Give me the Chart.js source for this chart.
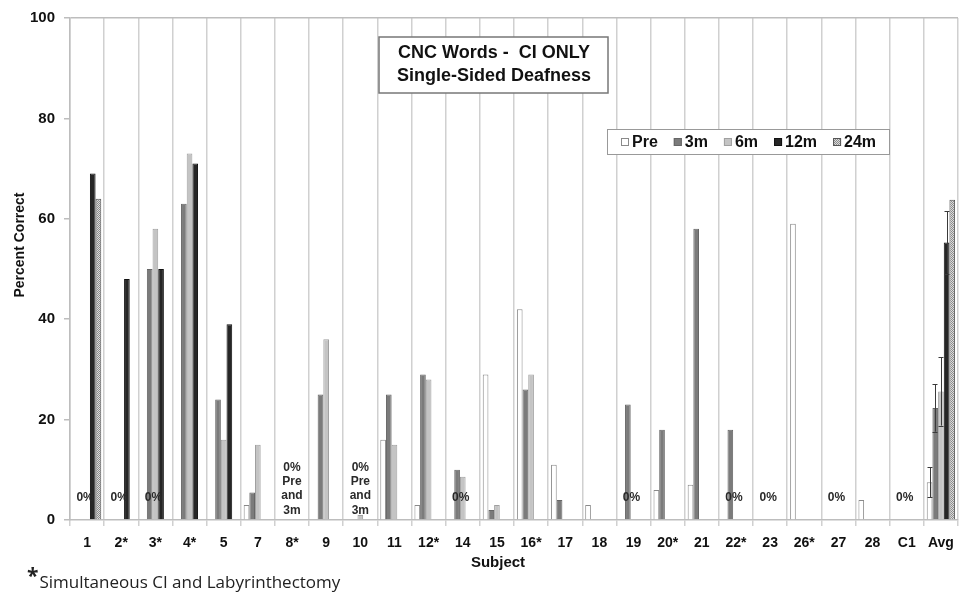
<!DOCTYPE html>
<html>
<head>
<meta charset="utf-8">
<title>CNC Words - CI ONLY</title>
<script src="https://cdn.jsdelivr.net/npm/chart.js@4.4.1/dist/chart.umd.min.js"></script>
<style>
  html, body { margin: 0; padding: 0; background: #fff; }
  #wrap { position: relative; width: 965px; height: 595px; }
  #foot {
    position: absolute; left: 27px; top: 566px;
    font-family: "Open Sans", "Noto Sans", sans-serif; font-size: 17px; color: #222;
  }
  #foot b { font-size: 21px; position: relative; top: -5px; margin-right: 1px; }
</style>
</head>
<body>
<div id="wrap">
  <canvas id="chart" width="965" height="595"></canvas>
  <div id="foot"><b>*</b>Simultaneous CI and Labyrinthectomy</div>
</div>
<script>
// Subjects (x-axis)
const subjects = ['1', '2*', '3*', '4*', '5', '7', '8*', '9', '10', '11', '12*', '14', '15',
  '16*', '17', '18', '19', '20*', '21', '22*', '23', '26*', '27', '28', 'C1', 'Avg'];

// Percent correct per interval (null = no bar)
const pre = [null, null, null, null, null, 3, null, null, null, 16, 3, null, 29,
  42, 11, 3, null, 6, 7, null, null, 59, null, 4, null, 7.5];
const m3 = [null, null, 50, 63, 24, 5.5, null, 25, null, 25, 29, 10, 2,
  26, 4, null, 23, 18, 58, 18, null, null, null, null, null, 22.3];
const m6 = [null, null, 58, 73, 16, 15, null, 36, 1, 15, 28, 8.6, 3,
  29, null, null, null, null, null, null, null, null, null, null, null, 25.6];
const m12 = [69, 48, 50, 71, 39, null, null, null, null, null, null, null, null,
  null, null, null, null, null, null, null, null, null, null, null, null, 55.3];
const m24 = [64, null, null, null, null, null, null, null, null, null, null, null, null,
  null, null, null, null, null, null, null, null, null, null, null, null, 63.8];

// error bars on the Avg group (Pre, 3m, 6m, 12m, 24m)
const avgError = [3.0, 4.7, 6.8, 6.2, null];

// subjects marked "0%" and the two "0% Pre and 3m" notes
const zeroLabels = ['1', '2*', '3*', '14', '19', '22*', '23', '27', 'C1'];
const noteLabels = ['8*', '10'];
const noteLines = ['0%', 'Pre', 'and', '3m'];

const yTicks = [0, 20, 40, 60, 80, 100];

const FONT = '"Liberation Sans", Arial, sans-serif';

// 24m bars: fine dotted fill
function dotPattern() {
  const c = document.createElement('canvas');
  c.width = 2; c.height = 2;
  const g = c.getContext('2d');
  g.fillStyle = '#dcdcdc'; g.fillRect(0, 0, 2, 2);
  g.fillStyle = '#8c8c8c'; g.fillRect(0, 0, 1, 1); g.fillRect(1, 1, 1, 1);
  return g.createPattern(c, 'repeat');
}

function ds(label, data, bg, border) {
  return {
    label, data,
    backgroundColor: bg,
    borderColor: border,
    borderWidth: 1,
    categoryPercentage: 0.83,
    barPercentage: 1.0
  };
}

// Titel-Box, Legende, Achsentitel, 0%-Hinweise und Fehlerbalken direkt auf die Canvas
const overlay = {
  id: 'overlay',
  afterDatasetsDraw(chart) {
    const ctx = chart.ctx;
    const x = chart.scales.x, y = chart.scales.y;
    ctx.save();

    // error bars (Avg)
    const last = subjects.length - 1;
    ctx.strokeStyle = '#3a3a3a';
    ctx.lineWidth = 1;
    avgError.forEach((e, i) => {
      if (e == null) return;
      const bar = chart.getDatasetMeta(i).data[last];
      const v = chart.data.datasets[i].data[last];
      const top = y.getPixelForValue(v + e), bot = y.getPixelForValue(v - e);
      const bx = Math.round(bar.x) + 0.5;
      ctx.beginPath();
      ctx.moveTo(bx, top); ctx.lineTo(bx, bot);
      ctx.moveTo(bx - 3, Math.round(top) + 0.5); ctx.lineTo(bx + 2, Math.round(top) + 0.5);
      ctx.moveTo(bx - 3, Math.round(bot) + 0.5); ctx.lineTo(bx + 2, Math.round(bot) + 0.5);
      ctx.stroke();
    });

    // 0% labels
    ctx.fillStyle = '#2a2a2a';
    ctx.font = 'bold 12px ' + FONT;
    ctx.textAlign = 'center';
    ctx.textBaseline = 'middle';
    zeroLabels.forEach(l => {
      const px = x.getPixelForValue(subjects.indexOf(l));
      ctx.fillText('0%', px - 2, y.getPixelForValue(4.4));
    });
    noteLabels.forEach(l => {
      const px = x.getPixelForValue(subjects.indexOf(l));
      noteLines.forEach((t, k) => {
        ctx.fillText(t, px, y.getPixelForValue(10.5 - k * 2.85));
      });
    });

    // axis titles
    ctx.fillStyle = '#111';
    ctx.font = 'bold 15px ' + FONT;
    ctx.fillText('Subject', 498, 563);
    ctx.save();
    ctx.translate(20, 245);
    ctx.rotate(-Math.PI / 2);
    ctx.font = 'bold 14px ' + FONT;
    ctx.fillText('Percent Correct', 0, 0);
    ctx.restore();

    // title box
    ctx.fillStyle = '#fff';
    ctx.fillRect(379, 37, 229, 56);
    ctx.strokeStyle = '#777';
    ctx.lineWidth = 1.5;
    ctx.strokeRect(379, 37, 229, 56);
    ctx.fillStyle = '#111';
    ctx.font = 'bold 18px ' + FONT;
    ctx.fillText('CNC Words -  CI ONLY', 494, 53);
    ctx.fillText('Single-Sided Deafness', 494, 76);

    // legend
    ctx.fillStyle = '#fff';
    ctx.fillRect(607, 129, 282, 25);
    ctx.strokeStyle = '#999';
    ctx.lineWidth = 1;
    ctx.strokeRect(607.5, 129.5, 282, 25);
    ctx.font = 'bold 16px ' + FONT;
    ctx.textAlign = 'left';
    let lx = 621;
    chart.data.datasets.forEach(d => {
      ctx.fillStyle = d.backgroundColor;
      ctx.fillRect(lx, 138, 8, 8);
      ctx.strokeStyle = d.borderColor;
      ctx.strokeRect(lx + 0.5, 138.5, 7, 7);
      ctx.fillStyle = '#111';
      ctx.fillText(d.label, lx + 11, 142.5);
      lx += 11 + ctx.measureText(d.label).width + 16;
    });
    ctx.restore();
  }
};

new Chart(document.getElementById('chart'), {
  type: 'bar',
  data: {
    labels: subjects,
    datasets: [
      ds('Pre', pre, '#ffffff', '#8a8a8a'),
      ds('3m', m3, '#7b7b7b', '#666666'),
      ds('6m', m6, '#c4c4c4', '#a0a0a0'),
      ds('12m', m12, '#262626', '#111111'),
      ds('24m', m24, dotPattern(), '#555555')
    ]
  },
  options: {
    responsive: false,
    animation: false,
    devicePixelRatio: 1,
    layout: { padding: { top: 17, right: 7, left: 0, bottom: 0 } },
    plugins: { legend: { display: false }, tooltip: { enabled: false } },
    scales: {
      x: {
        afterFit: s => { s.height = 75; },
        grid: { offset: true, color: '#d0d0d0', lineWidth: 1.5, tickLength: 6 },
        border: { color: '#bdbdbd', width: 1.5 },
        ticks: { color: '#111', font: { family: FONT, size: 14, weight: 'bold' }, padding: 9, maxRotation: 0, autoSkip: false }
      },
      y: {
        min: 0, max: 100,
        afterFit: s => { s.width = 70; },
        afterBuildTicks: s => { s.ticks = yTicks.map(v => ({ value: v })); },
        grid: {
          color: c => (c.tick && c.tick.value === 100 ? '#bdbdbd' : 'rgba(0,0,0,0)'),
          tickColor: '#bdbdbd', tickLength: 6, lineWidth: 1.5
        },
        border: { color: '#bdbdbd', width: 1.5 },
        ticks: { color: '#111', font: { family: FONT, size: 15, weight: 'bold' }, padding: 9 }
      }
    }
  },
  plugins: [overlay]
});
</script>
</body>
</html>
